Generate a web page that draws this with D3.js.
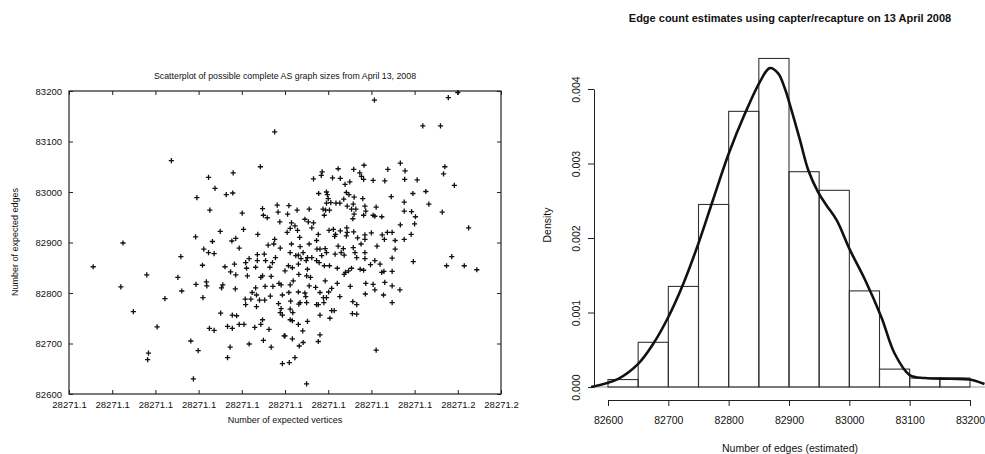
<!DOCTYPE html>
<html>
<head>
<meta charset="utf-8">
<script src="https://cdn.jsdelivr.net/npm/d3@7/dist/d3.min.js"></script>
<style>
  body { margin: 0; background: #fff; }
  text { font-family: "Liberation Sans", Arial, sans-serif; fill: #111; }
</style>
</head>
<body>
<svg width="985" height="454"></svg>
<script>

// ---- left panel: scatterplot data (x in tick steps, y in edges) ----
var vertexTickLabels = ["28271.1","28271.1","28271.1","28271.1","28271.1","28271.1",
                        "28271.1","28271.1","28271.1","28271.2","28271.2"];
var edgeTicks = [82600, 82700, 82800, 82900, 83000, 83100, 83200];

var points = [
  [4.76,83119],[2.37,83062],[4.43,83050],[3.23,83029],[3.80,83038],[3.38,83007],[2.96,82989],
  [3.64,82995],[3.79,82998],[3.26,82964],[4.01,82958],[4.82,82974],[4.48,82967],[4.84,82960],
  [4.50,82954],[4.59,82949],[4.88,82941],[2.93,82911],[3.50,82922],[4.04,82926],[4.37,82916],
  [3.32,82902],[3.77,82903],[3.86,82908],[4.76,82906],
  [7.07,83182],[8.78,83187],[9.00,83197],[8.19,83131],[8.60,83131],[7.67,83057],[6.83,83053],
  [7.78,83042],[8.70,83050],[8.67,83036],[5.86,83040],[5.84,83033],[6.23,83046],[6.59,83045],
  [6.73,83038],[6.77,83031],[6.82,83025],[6.10,83028],[6.28,83027],[5.66,83026],[7.04,83023],
  [7.31,83022],[7.38,83045],[7.77,83025],[8.06,83024],[8.92,83013],[6.39,83015],[6.50,83020],
  [5.78,82997],[5.96,83000],[5.98,82995],[6.42,82999],[6.48,82995],[6.60,82990],[6.36,82986],
  [6.80,82987],[7.46,82991],[7.96,82997],[8.26,83001],[6.00,82987],[6.06,82979],[5.96,82978],
  [6.18,82978],[6.27,82978],[6.44,82972],[6.58,82976],[6.54,82966],[6.64,82966],[6.85,82972],
  [6.87,82962],[7.11,82970],[7.76,82980],[8.33,82976],[5.09,82973],[5.28,82964],[5.56,82966],
  [5.88,82966],[5.94,82964],[6.03,82964],[5.91,82954],[6.57,82947],[6.60,82956],[6.82,82954],
  [7.04,82954],[7.08,82952],[7.24,82951],[7.76,82962],[7.93,82961],[8.02,82951],[8.64,82960],
  [8.00,82937],[7.67,82935],[5.06,82956],[5.15,82939],[5.23,82933],[5.12,82928],[5.46,82946],
  [5.54,82941],[5.66,82939],[5.62,82929],[5.29,82924],[5.34,82910],[5.05,82920],[5.77,82916],
  [6.02,82924],[6.12,82926],[6.17,82916],[6.15,82912],[6.28,82923],[6.43,82929],[6.44,82920],
  [6.42,82913],[6.59,82921],[6.68,82909],[6.85,82915],[6.85,82906],[7.00,82919],[7.25,82915],
  [7.30,82906],[7.37,82920],[7.48,82920],[7.76,82906],[7.92,82916],[9.25,82929],[5.73,82904],
  [7.55,82904],
  [1.25,82899],[0.56,82852],[2.59,82872],[3.12,82887],[3.23,82880],[3.36,82878],[3.94,82889],
  [4.61,82895],[4.74,82897],[4.89,82889],[4.36,82876],[4.52,82877],[4.78,82870],[3.09,82855],
  [3.61,82852],[3.83,82857],[4.09,82860],[4.17,82868],[4.36,82864],[4.55,82864],[4.71,82860],
  [4.65,82851],[4.32,82851],[4.11,82849],[3.74,82842],[3.86,82836],[4.13,82834],[4.44,82831],
  [4.48,82834],[4.68,82833],[1.80,82836],[2.52,82831],[1.20,82812],[2.94,82817],[3.18,82822],
  [3.19,82814],[3.56,82816],[3.53,82810],[3.85,82808],[4.32,82810],[4.54,82813],[4.72,82813],
  [4.86,82819],[4.91,82816],[2.61,82804],[3.10,82791],[2.22,82789],[4.24,82801],[4.34,82796],
  [4.94,82796],[4.08,82788],[4.21,82788],[4.41,82786],[4.53,82786],[4.66,82794],[4.85,82779],
  [4.09,82777],[4.34,82773],[4.91,82769],[4.89,82761],[1.49,82763],[3.51,82760],[3.78,82756],
  [3.88,82755],[4.94,82756],[4.48,82747],[3.67,82734],[3.78,82730],[3.94,82738],[4.05,82738],
  [4.44,82738],[4.30,82732],[4.63,82728],[3.25,82730],[3.36,82726],[2.04,82733],[2.82,82705],
  [4.17,82699],[4.50,82706],[2.99,82686],[3.73,82693],[4.68,82693],[1.84,82681],[1.82,82668],
  [3.67,82672],[4.94,82660],[2.88,82630],[4.98,82715],
  [5.15,82897],[5.35,82892],[5.56,82897],[5.74,82887],[5.81,82887],[5.93,82888],[6.23,82893],
  [6.35,82888],[6.58,82890],[6.76,82897],[7.13,82893],[7.55,82887],[5.12,82880],[5.25,82874],
  [5.31,82875],[5.42,82880],[5.52,82870],[5.37,82868],[5.62,82870],[5.73,82864],[5.85,82874],
  [5.96,82880],[6.16,82877],[6.30,82880],[6.37,82875],[6.62,82880],[6.85,82880],[6.66,82870],
  [6.85,82868],[7.48,82869],[5.08,82854],[5.17,82850],[5.31,82857],[5.49,82864],[5.52,82847],
  [5.79,82860],[5.91,82854],[6.03,82854],[6.21,82849],[6.40,82841],[6.37,82837],[6.47,82844],
  [6.54,82849],[6.74,82847],[6.82,82845],[6.98,82856],[7.08,82864],[7.20,82857],[7.24,82841],
  [7.29,82843],[7.48,82843],[5.00,82844],[5.32,82837],[5.50,82834],[5.59,82831],[5.19,82824],
  [5.12,82816],[5.56,82814],[5.71,82811],[5.93,82824],[6.01,82802],[6.08,82809],[6.21,82819],
  [6.27,82793],[6.51,82813],[6.87,82819],[7.04,82817],[7.31,82821],[7.48,82814],[7.66,82806],
  [5.09,82801],[5.31,82802],[5.46,82800],[5.48,82793],[5.81,82801],[5.89,82791],[5.96,82791],
  [6.86,82798],[7.08,82806],[7.28,82796],[5.13,82784],[5.35,82781],[5.50,82781],[5.32,82778],
  [5.73,82777],[5.77,82777],[5.90,82781],[6.08,82765],[6.14,82765],[6.57,82783],[6.66,82777],
  [7.48,82781],[5.12,82768],[5.18,82761],[5.12,82747],[5.17,82745],[5.31,82738],[5.52,82744],
  [5.81,82756],[6.04,82750],[6.56,82759],[6.66,82758],[5.41,82725],[5.00,82715],[5.17,82709],
  [5.81,82717],[5.77,82704],[5.42,82702],[5.33,82695],[7.11,82687],[5.23,82672],[5.10,82662],
  [5.50,82620],[7.97,82862],[8.86,82872],[8.74,82854],[9.15,82854],[9.44,82846]
];

// ---- right panel: histogram + density ----
var binEdges   = [82600, 82650, 82700, 82750, 82800, 82850, 82900, 82950, 83000, 83050, 83100, 83150, 83200];
var binDensity = [0.0001, 0.0006, 0.00135, 0.00245, 0.0037, 0.00441, 0.00289, 0.00264, 0.00129, 0.00024, 0.00012, 0.00012];
var histXTicks = [82600, 82700, 82800, 82900, 83000, 83100, 83200];
var densTicks  = [0, 0.001, 0.002, 0.003, 0.004];

var kdeX = [82572, 82617, 82650, 82675, 82700, 82725, 82750, 82774, 82800, 82827, 82852, 82868,
            82882, 82893, 82904, 82918, 82932, 82948, 82962, 82979, 83001, 83026, 83053, 83075,
            83100, 83125, 83169, 83199, 83224];
var kdeY = [0.0, 0.00011, 0.00031, 0.00058, 0.00094, 0.00139, 0.00193, 0.00251, 0.00313, 0.00367,
            0.0041, 0.00428, 0.00421, 0.00401, 0.00372, 0.00332, 0.00291, 0.00262, 0.00244, 0.00224,
            0.00184, 0.00144, 0.00094, 0.00045, 0.00016, 0.00012, 0.00011, 0.0001, 0.00004];

var svg = d3.select("svg");

// ================= left: scatterplot =================
var left = svg.append("g");
var xs = d3.scaleLinear().domain([0, 10]).range([69, 501]);
var ys = d3.scaleLinear().domain([82600, 83200]).range([394, 91]);

left.append("rect")
    .attr("x", 69).attr("y", 91)
    .attr("width", 432).attr("height", 303)
    .attr("fill", "none").attr("stroke", "#222").attr("stroke-width", 1.2);

var tIdx = d3.range(vertexTickLabels.length);

left.append("g")
    .attr("transform", "translate(0,394)")
    .call(d3.axisBottom(xs).tickValues(tIdx).tickSize(-4).tickPadding(7)
          .tickFormat(function(d) { return vertexTickLabels[d]; }))
    .call(function(g) { g.select(".domain").remove(); });

left.append("g")
    .attr("transform", "translate(0,91)")
    .call(d3.axisTop(xs).tickValues(tIdx).tickSize(-4).tickFormat(""))
    .call(function(g) { g.select(".domain").remove(); });

left.append("g")
    .attr("transform", "translate(69,0)")
    .call(d3.axisLeft(ys).tickValues(edgeTicks).tickSize(-4).tickPadding(7)
          .tickFormat(d3.format("d")))
    .call(function(g) { g.select(".domain").remove(); });

left.append("g")
    .attr("transform", "translate(501,0)")
    .call(d3.axisRight(ys).tickValues(edgeTicks).tickSize(-4).tickFormat(""))
    .call(function(g) { g.select(".domain").remove(); });

left.selectAll(".tick text").attr("font-size", 9.5).style("font-family", "Liberation Sans, Arial");
left.selectAll(".tick line").attr("stroke", "#222");

// plus markers
var plus = "M-2.6,0H2.6M0,-2.6V2.6";
left.append("g").selectAll("path")
    .data(points)
  .enter().append("path")
    .attr("d", plus)
    .attr("transform", function(d) { return "translate(" + xs(d[0]) + "," + ys(d[1]) + ")"; })
    .attr("stroke", "#111").attr("stroke-width", 1.3).attr("fill", "none");

left.append("text")
    .attr("x", 285).attr("y", 79)
    .attr("text-anchor", "middle").attr("font-size", 8.8)
    .text("Scatterplot of possible complete AS graph sizes from April 13, 2008");

left.append("text")
    .attr("x", 285).attr("y", 423)
    .attr("text-anchor", "middle").attr("font-size", 9)
    .text("Number of expected vertices");

left.append("text")
    .attr("transform", "translate(18,242) rotate(-90)")
    .attr("text-anchor", "middle").attr("font-size", 9)
    .text("Number of expected edges");

// ================= right: histogram =================
var right = svg.append("g");
var hx = d3.scaleLinear().domain([82600, 83200]).range([608, 970]);
var hy = d3.scaleLinear().domain([0, 0.004]).range([387, 89]);

var bins = binDensity.map(function(v, i) { return { x0: binEdges[i], x1: binEdges[i + 1], d: v }; });

// baseline
right.append("line")
    .attr("x1", hx(82575)).attr("x2", hx(83225))
    .attr("y1", hy(0)).attr("y2", hy(0))
    .attr("stroke", "#999").attr("stroke-width", 1);

right.append("g").selectAll("rect")
    .data(bins)
  .enter().append("rect")
    .attr("x", function(d) { return hx(d.x0); })
    .attr("width", function(d) { return hx(d.x1) - hx(d.x0); })
    .attr("y", function(d) { return hy(d.d); })
    .attr("height", function(d) { return hy(0) - hy(d.d); })
    .attr("fill", "none").attr("stroke", "#333").attr("stroke-width", 1.1);

var kde = kdeX.map(function(v, i) { return [v, kdeY[i]]; });
right.append("path")
    .datum(kde)
    .attr("d", d3.line()
        .x(function(d) { return hx(d[0]); })
        .y(function(d) { return hy(d[1]); })
        .curve(d3.curveCatmullRom.alpha(0.5)))
    .attr("fill", "none").attr("stroke", "#111").attr("stroke-width", 2.6);

right.append("g")
    .attr("transform", "translate(0,400)")
    .call(d3.axisBottom(hx).tickValues(histXTicks).tickSize(6).tickSizeOuter(0).tickPadding(11)
          .tickFormat(d3.format("d")));

var hyAxis = right.append("g")
    .attr("transform", "translate(594,0)")
    .call(d3.axisLeft(hy).tickValues(densTicks).tickSize(6).tickSizeOuter(0).tickPadding(5)
          .tickFormat(d3.format(".3f")));

hyAxis.selectAll(".tick text")
    .attr("text-anchor", "middle")
    .attr("transform", "rotate(-90)")
    .attr("x", 0).attr("dy", 0)
    .attr("y", -14);

right.selectAll(".tick text").attr("font-size", 10.5).style("font-family", "Liberation Sans, Arial");
right.selectAll(".domain, .tick line").attr("stroke", "#222");

right.append("text")
    .attr("x", 790).attr("y", 22)
    .attr("text-anchor", "middle").attr("font-size", 11).attr("font-weight", "bold")
    .text("Edge count estimates using capter/recapture on 13 April 2008");

right.append("text")
    .attr("x", 790).attr("y", 452)
    .attr("text-anchor", "middle").attr("font-size", 10.5)
    .text("Number of edges (estimated)");

right.append("text")
    .attr("transform", "translate(551,225) rotate(-90)")
    .attr("text-anchor", "middle").attr("font-size", 10.5)
    .text("Density");

</script>
</body>
</html>
